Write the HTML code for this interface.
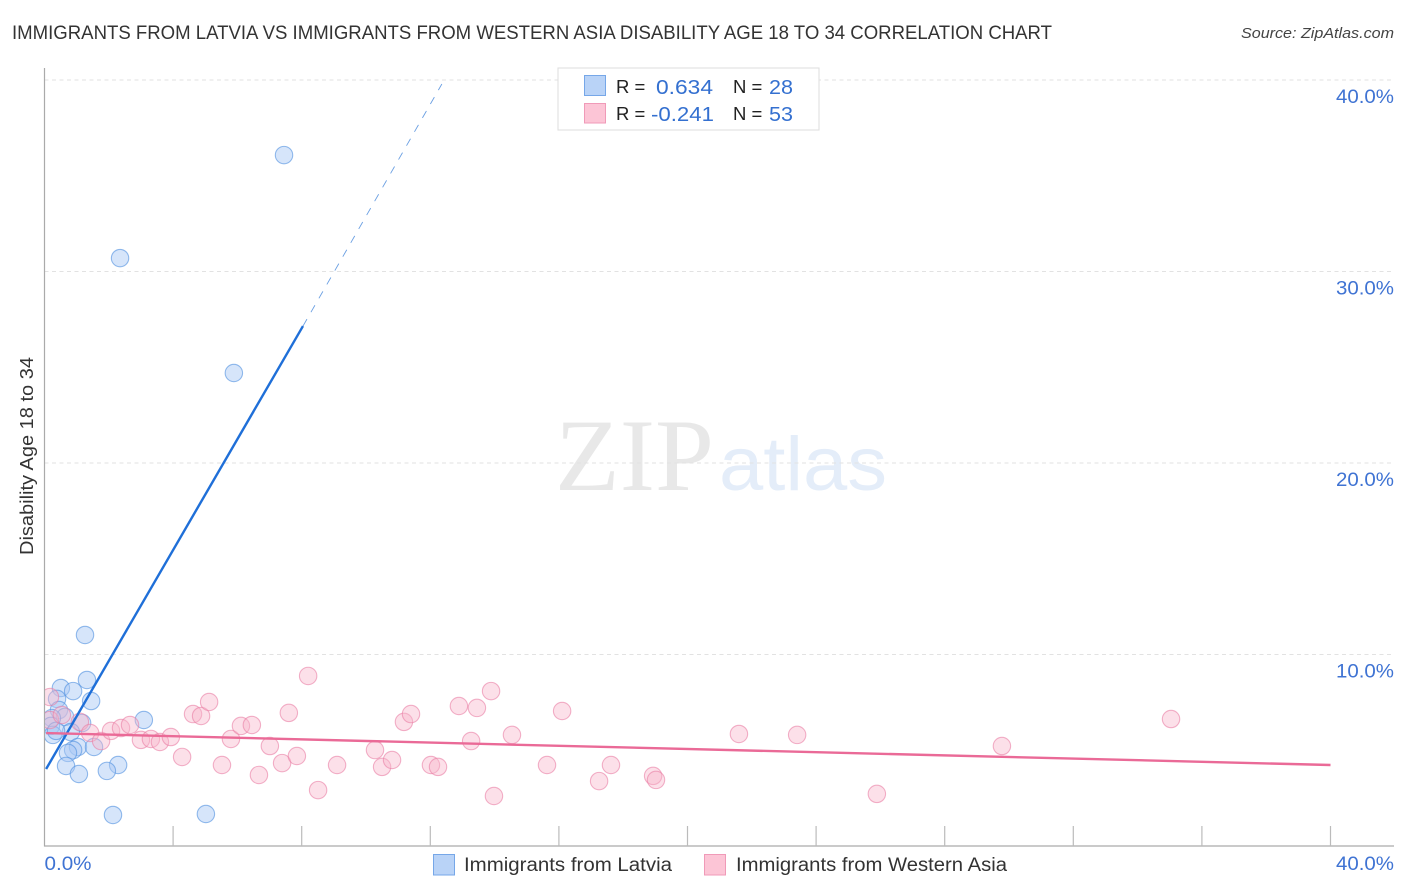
<!DOCTYPE html>
<html lang="en">
<head>
<meta charset="utf-8">
<title>Immigrants from Latvia vs Immigrants from Western Asia Disability Age 18 to 34 Correlation Chart</title>
<style>
html,body{margin:0;padding:0;background:#fff;width:1406px;height:892px;overflow:hidden}
svg{display:block;font-family:"Liberation Sans",sans-serif}
</style>
</head>
<body>
<svg id="chart" width="1406" height="892" viewBox="0 0 1406 892" xmlns="http://www.w3.org/2000/svg">
  <defs><clipPath id="plot-clip"><rect x="45" y="68" width="1349" height="778"/></clipPath></defs>
  <text x="12" y="39" font-size="19.5" fill="#333" textLength="1040" lengthAdjust="spacingAndGlyphs">IMMIGRANTS FROM LATVIA VS IMMIGRANTS FROM WESTERN ASIA DISABILITY AGE 18 TO 34 CORRELATION CHART</text>
  <text x="1241" y="38" font-size="15" font-style="italic" fill="#444" textLength="153" lengthAdjust="spacingAndGlyphs">Source: ZipAtlas.com</text>
  <g>
    <text x="555" y="490" font-family="'Liberation Serif',serif" font-size="103" fill="#e8e8e8" textLength="159" lengthAdjust="spacingAndGlyphs">ZIP</text>
    <text x="719" y="490" font-size="76" fill="#e4edf9" textLength="168" lengthAdjust="spacingAndGlyphs">atlas</text>
  </g>
  <g id="grid"></g>
  <g id="axes"></g>
  <g id="lines"></g>
  <g id="points" clip-path="url(#plot-clip)"></g>
  <g>
    <rect x="558" y="68" width="261" height="62" fill="#fff" stroke="#ddd" stroke-width="1"/>
    <rect x="584.5" y="75.5" width="21" height="20" fill="#b9d3f7" stroke="#76a7e8"/>
    <rect x="584.5" y="103.5" width="21" height="19.5" fill="#fcc5d6" stroke="#f09ab8"/>
    <g font-size="20" fill="#222">
      <text x="616" y="93" font-size="18.5">R =</text>
      <text x="656" y="94" fill="#3470d0" textLength="57" lengthAdjust="spacingAndGlyphs">0.634</text>
      <text x="733" y="93" font-size="18.5">N =</text>
      <text x="769" y="94" fill="#3470d0" textLength="24" lengthAdjust="spacingAndGlyphs">28</text>
      <text x="616" y="120" font-size="18.5">R =</text>
      <text x="651" y="121" fill="#3470d0" textLength="63" lengthAdjust="spacingAndGlyphs">-0.241</text>
      <text x="733" y="120" font-size="18.5">N =</text>
      <text x="769" y="121" fill="#3470d0" textLength="24" lengthAdjust="spacingAndGlyphs">53</text>
    </g>
  </g>
  <g>
    <rect x="433.5" y="854.5" width="21" height="20.5" fill="#b9d3f7" stroke="#76a7e8"/>
    <text x="464" y="871" font-size="19" fill="#333" textLength="208" lengthAdjust="spacingAndGlyphs">Immigrants from Latvia</text>
    <rect x="704.5" y="854.5" width="21" height="20.5" fill="#fcc5d6" stroke="#f09ab8"/>
    <text x="736" y="871" font-size="19" fill="#333" textLength="271" lengthAdjust="spacingAndGlyphs">Immigrants from Western Asia</text>
  </g>
  <text transform="translate(33,456) rotate(-90)" font-size="18" fill="#333" text-anchor="middle" textLength="198" lengthAdjust="spacingAndGlyphs">Disability Age 18 to 34</text>
</svg>
<script>
// Chart data (percent values)
const yTicks = [10, 20, 30, 40];
const yTickLabels = ["10.0%", "20.0%", "30.0%", "40.0%"];
const xTicks = [0, 4, 8, 12, 16, 20, 24, 28, 32, 36, 40];
const xEndLabels = ["0.0%", "40.0%"];
const latviaX = [7.45,2.35,5.89,1.26,1.32,0.51,0.89,0.39,1.45,3.09,0.45,0.64,1.17,0.23,0.20,0.26,0.82,1.04,0.89,0.73,1.54,0.67,1.07,2.29,1.94,2.13,5.02,0.36];
const latviaY = [36.08,30.70,24.70,11.02,8.67,8.25,8.09,7.68,7.57,6.58,7.10,6.74,6.42,6.68,6.27,5.80,5.95,5.17,5.01,4.86,5.17,4.18,3.76,4.23,3.92,1.62,1.67,6.01];
const asiaX = [0.17,0.17,0.54,1.10,1.42,1.76,2.07,2.38,2.66,3.00,3.31,3.59,3.93,4.28,4.62,4.87,5.12,5.52,5.80,6.11,6.45,6.67,7.01,7.39,7.60,7.85,8.20,8.51,9.10,10.28,10.50,10.81,11.18,11.40,12.02,12.24,12.89,13.27,13.45,13.89,13.98,14.54,15.63,16.10,17.25,17.62,18.93,19.02,21.60,23.41,25.89,29.78,35.04];
const asiaY = [7.78,6.58,6.84,6.48,5.90,5.48,6.01,6.16,6.32,5.54,5.59,5.43,5.69,4.65,6.89,6.79,7.52,4.23,5.59,6.27,6.32,3.71,5.22,4.33,6.95,4.70,8.88,2.92,4.23,5.01,4.13,4.49,6.48,6.89,4.23,4.13,7.31,5.48,7.21,8.09,2.61,5.80,4.23,7.05,3.39,4.23,3.66,3.45,5.85,5.80,2.72,5.22,6.63];
const latviaTrendX = [0.05, 8.04, 12.36];
const latviaTrendY = [4.02, 27.15, 39.79];
const asiaTrendX = [0.05, 40];
const asiaTrendY = [5.90, 4.23];

// Axis functions
function sx(v){ return 44.5 + v * 32.15; }
function sy(v){ return 846 - v * 19.15; }

const NS = 'http://www.w3.org/2000/svg';
function make(parent, tag, attrs, text){
  const el = document.createElementNS(NS, tag);
  for (const k in attrs) el.setAttribute(k, attrs[k]);
  if (text !== undefined) el.textContent = text;
  parent.appendChild(el);
  return el;
}
const grid = document.getElementById('grid');
const axes = document.getElementById('axes');
const lines = document.getElementById('lines');
const points = document.getElementById('points');

yTicks.forEach(function(t, i){
  const g = make(grid, 'line', {x1:44.5, x2:1394, y1:sy(t), y2:sy(t), stroke:'#e2e2e2', 'stroke-width':1, 'stroke-dasharray':'4 3.5'});
  
  
  const lb = make(axes, 'text', {x:1336, y:sy(t)+23, 'font-size':19.5, fill:'#3f73d3', textLength:58, lengthAdjust:'spacingAndGlyphs'}, yTickLabels[i]);
  
  
});

const yAxis = make(axes, 'line', {x1:44.5, x2:44.5, y1:68, y2:846.5, stroke:'#aaa', 'stroke-width':1.2});


const xAxis = make(axes, 'line', {x1:44, x2:1394, y1:846, y2:846, stroke:'#aaa', 'stroke-width':1.2});



xTicks.forEach(function(t){
  if (t === 0) return;
  const tk = make(axes, 'line', {x1:sx(t), x2:sx(t), y1:826, y2:846, stroke:'#bbb', 'stroke-width':1.2});
  
  
});
const xl0 = make(axes, 'text', {x:sx(0), y:870, 'font-size':19.5, fill:'#3f73d3', textLength:47, lengthAdjust:'spacingAndGlyphs'}, xEndLabels[0]);


const xl1 = make(axes, 'text', {x:1336, y:870, 'font-size':19.5, fill:'#3f73d3', textLength:58, lengthAdjust:'spacingAndGlyphs'}, xEndLabels[1]);



latviaX.forEach(function(x, i){
  const c = make(points, 'circle', {cx:sx(x), cy:sy(latviaY[i]), r:8.7, fill:'#a9c9f4', 'fill-opacity':0.48, stroke:'#4f8fe0', 'stroke-opacity':0.6, 'stroke-width':1.1});
  
  
});
asiaX.forEach(function(x, i){
  const c = make(points, 'circle', {cx:sx(x), cy:sy(asiaY[i]), r:8.7, fill:'#f9b4ca', 'fill-opacity':0.42, stroke:'#ea7fa5', 'stroke-opacity':0.6, 'stroke-width':1.1});
  
  
});

const tl1 = make(lines, 'line', {x1:sx(latviaTrendX[0]), y1:sy(latviaTrendY[0]), x2:sx(latviaTrendX[1]), y2:sy(latviaTrendY[1]), stroke:'#1f6fd8', 'stroke-width':2.4});


const tl2 = make(lines, 'line', {x1:sx(latviaTrendX[1]), y1:sy(latviaTrendY[1]), x2:sx(latviaTrendX[2]), y2:sy(latviaTrendY[2]), stroke:'#6a9fe2', 'stroke-width':0.9, 'stroke-dasharray':'8 8'});


const tl3 = make(lines, 'line', {x1:sx(asiaTrendX[0]), y1:sy(asiaTrendY[0]), x2:sx(asiaTrendX[1]), y2:sy(asiaTrendY[1]), stroke:'#ea6a97', 'stroke-width':2.4});


// points render above the grid, trend lines on top of the points
points.parentNode.insertBefore(points, lines);
</script>
</body>
</html>
